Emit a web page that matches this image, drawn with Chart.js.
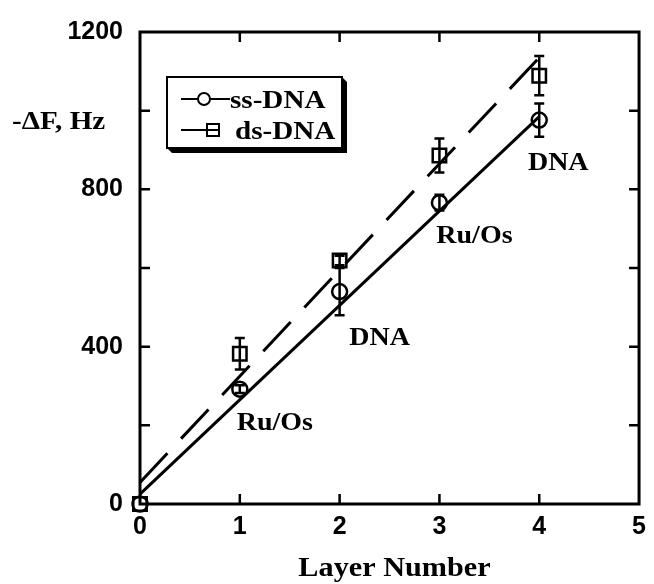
<!DOCTYPE html>
<html>
<head>
<meta charset="utf-8">
<script src="https://cdn.jsdelivr.net/npm/chart.js@4/dist/chart.umd.min.js"></script>
<style>
    html, body { margin: 0; padding: 0; background: #fff; }
</style>
</head>
<body>
<canvas id="grafico" width="654" height="584"></canvas>
<script>
// Datos
const capas = [0, 1, 2, 3, 4];
const ssDNA = [0, 292, 540, 766, 976];
const dsDNA = [0, 382, 619, 886, 1089];
const errorSs = [0, 10, 60, 20, 42];
const errorDs = [0, 40, 12, 43, 50];

// Rectas de ajuste (extremos)
const ajusteX = [0, 4];
const ajusteSs = [25, 985];
const ajusteDs = [55, 1135];

const ticksY = [0, 400, 800, 1200];
const nombresSeries = ['ss-DNA', 'ds-DNA'];
const etiquetasCapa = ['Ru/Os', 'DNA', 'Ru/Os', 'DNA'];

const ESTIRAR = 1.12;
const SERIF = '"Liberation Serif", "Times New Roman", serif';
const SANS = '"Liberation Sans", Arial, sans-serif';

function textoEstirado(ctx, texto, x, y, tam, alinear) {
    ctx.save();
    ctx.font = `bold ${tam}px ${SERIF}`;
    const ancho = ctx.measureText(texto).width * ESTIRAR;
    let x0 = x;
    if (alinear === 'center') x0 = x - ancho / 2;
    ctx.translate(x0, y);
    ctx.scale(ESTIRAR, 1);
    ctx.textAlign = 'left';
    ctx.textBaseline = 'alphabetic';
    ctx.fillStyle = '#000';
    ctx.fillText(texto, 0, 0);
    ctx.restore();
}

// Marco con marcas hacia adentro
const marcoEjes = {
    id: 'marcoEjes',
    afterDraw(chart) {
        const { ctx, chartArea: a, scales: { x, y } } = chart;
        ctx.save();
        ctx.strokeStyle = '#000';
        ctx.lineWidth = 3;
        ctx.strokeRect(a.left, a.top, a.right - a.left, a.bottom - a.top);
        ctx.lineWidth = 2.5;
        const largo = 10;
        ctx.beginPath();
        x.ticks.forEach(t => {
            if (t.value <= x.min || t.value >= x.max) return;
            const px = x.getPixelForValue(t.value);
            ctx.moveTo(px, a.bottom); ctx.lineTo(px, a.bottom - largo);
            ctx.moveTo(px, a.top); ctx.lineTo(px, a.top + largo);
        });
        y.ticks.forEach(t => {
            if (t.value <= y.min || t.value >= y.max) return;
            const py = y.getPixelForValue(t.value);
            ctx.moveTo(a.left, py); ctx.lineTo(a.left + largo, py);
            ctx.moveTo(a.right, py); ctx.lineTo(a.right - largo, py);
        });
        ctx.stroke();
        ctx.restore();
    }
};

// Barras de error
const barrasError = {
    id: 'barrasError',
    afterDatasetsDraw(chart) {
        const { ctx, scales: { x, y } } = chart;
        ctx.save();
        ctx.strokeStyle = '#000';
        ctx.lineWidth = 2.5;
        const dibujar = (valores, errores) => {
            capas.forEach((c, i) => {
                if (!errores[i]) return;
                const px = x.getPixelForValue(c);
                const arriba = y.getPixelForValue(valores[i] + errores[i]);
                const abajo = y.getPixelForValue(valores[i] - errores[i]);
                ctx.beginPath();
                ctx.moveTo(px, arriba); ctx.lineTo(px, abajo);
                ctx.moveTo(px - 5, arriba); ctx.lineTo(px + 5, arriba);
                ctx.moveTo(px - 5, abajo); ctx.lineTo(px + 5, abajo);
                ctx.stroke();
            });
        };
        dibujar(ssDNA, errorSs);
        dibujar(dsDNA, errorDs);
        ctx.restore();
    }
};

// Textos, leyenda y rótulos de capa
const textos = {
    id: 'textos',
    afterDraw(chart) {
        const { ctx, chartArea: a, scales: { x, y } } = chart;

        textoEstirado(ctx, '-ΔF, Hz', 12, 129, 26, 'left');
        textoEstirado(ctx, 'Layer Number', (a.left + a.right) / 2 + 5, 576, 27, 'center');

        // rótulos junto a los puntos de ss-DNA
        const desplaz = [[35, 41], [40, 53], [35, 40], [19, 50]];
        etiquetasCapa.forEach((txt, i) => {
            const px = x.getPixelForValue(capas[i + 1]);
            const py = y.getPixelForValue(ssDNA[i + 1]);
            textoEstirado(ctx, txt, px + desplaz[i][0], py + desplaz[i][1], 25, 'center');
        });

        // leyenda con sombra
        const L = 167, T = 77, R = 342, B = 148, s = 5;
        ctx.save();
        ctx.fillStyle = '#000';
        ctx.beginPath();
        ctx.moveTo(R, T);
        ctx.lineTo(R + s, T + s);
        ctx.lineTo(R + s, B + s);
        ctx.lineTo(L + s, B + s);
        ctx.lineTo(L, B);
        ctx.closePath();
        ctx.fill();
        ctx.fillStyle = '#fff';
        ctx.fillRect(L, T, R - L, B - T);
        ctx.strokeStyle = '#000';
        ctx.lineWidth = 2;
        ctx.strokeRect(L, T, R - L, B - T);

        ctx.lineWidth = 2;
        ctx.beginPath();
        ctx.moveTo(181, 99); ctx.lineTo(230, 99);
        ctx.moveTo(181, 130); ctx.lineTo(207, 130);
        ctx.stroke();
        ctx.beginPath();
        ctx.arc(204, 99, 6, 0, Math.PI * 2);
        ctx.fillStyle = '#fff';
        ctx.fill();
        ctx.stroke();
        ctx.fillRect(207, 124, 12, 12);
        ctx.strokeRect(207, 124, 12, 12);
        ctx.beginPath();
        ctx.moveTo(207, 130); ctx.lineTo(219, 130);
        ctx.stroke();
        ctx.restore();

        textoEstirado(ctx, nombresSeries[0], 230, 108, 26, 'left');
        textoEstirado(ctx, nombresSeries[1], 235, 139, 26, 'left');
    }
};

const puntos = (xs, ys) => xs.map((v, i) => ({ x: v, y: ys[i] }));

new Chart(document.getElementById('grafico'), {
    type: 'scatter',
    data: {
        datasets: [{
            label: nombresSeries[0],
            data: puntos(capas, ssDNA),
            pointStyle: 'circle',
            pointRadius: 7.5,
            pointBorderWidth: 2.5,
            borderColor: '#000',
            backgroundColor: 'rgba(0,0,0,0)',
            clip: false
        }, {
            label: nombresSeries[1],
            data: puntos(capas, dsDNA),
            pointStyle: 'rect',
            pointRadius: 9.5,
            pointBorderWidth: 2.5,
            borderColor: '#000',
            backgroundColor: 'rgba(0,0,0,0)',
            clip: false
        }, {
            label: 'ajuste ss',
            data: puntos(ajusteX, ajusteSs),
            showLine: true,
            pointRadius: 0,
            borderColor: '#000',
            borderWidth: 3
        }, {
            label: 'ajuste ds',
            data: puntos(ajusteX, ajusteDs),
            showLine: true,
            pointRadius: 0,
            borderColor: '#000',
            borderWidth: 3,
            borderDash: [40, 20]
        }]
    },
    options: {
        responsive: false,
        animation: false,
        layout: { padding: { top: 27, right: 11, left: 0, bottom: 0 } },
        plugins: {
            legend: { display: false },
            tooltip: { enabled: false },
            title: { display: false }
        },
        scales: {
            x: {
                type: 'linear',
                min: 0,
                max: 5,
                afterFit: scale => { scale.height = 80; },
                grid: { display: false, drawTicks: false },
                border: { display: false },
                ticks: {
                    stepSize: 1,
                    padding: 8,
                    color: '#000',
                    maxRotation: 0,
                    font: { family: SANS, weight: 'bold', size: 25 }
                }
            },
            y: {
                type: 'linear',
                min: 0,
                max: 1200,
                afterFit: scale => { scale.width = 140; },
                grid: { display: false, drawTicks: false },
                border: { display: false },
                ticks: {
                    stepSize: 200,
                    padding: 17,
                    color: '#000',
                    font: { family: SANS, weight: 'bold', size: 25 },
                    callback: v => ticksY.includes(v) ? v : ''
                }
            }
        }
    },
    plugins: [marcoEjes, barrasError, textos]
});
</script>
</body>
</html>
